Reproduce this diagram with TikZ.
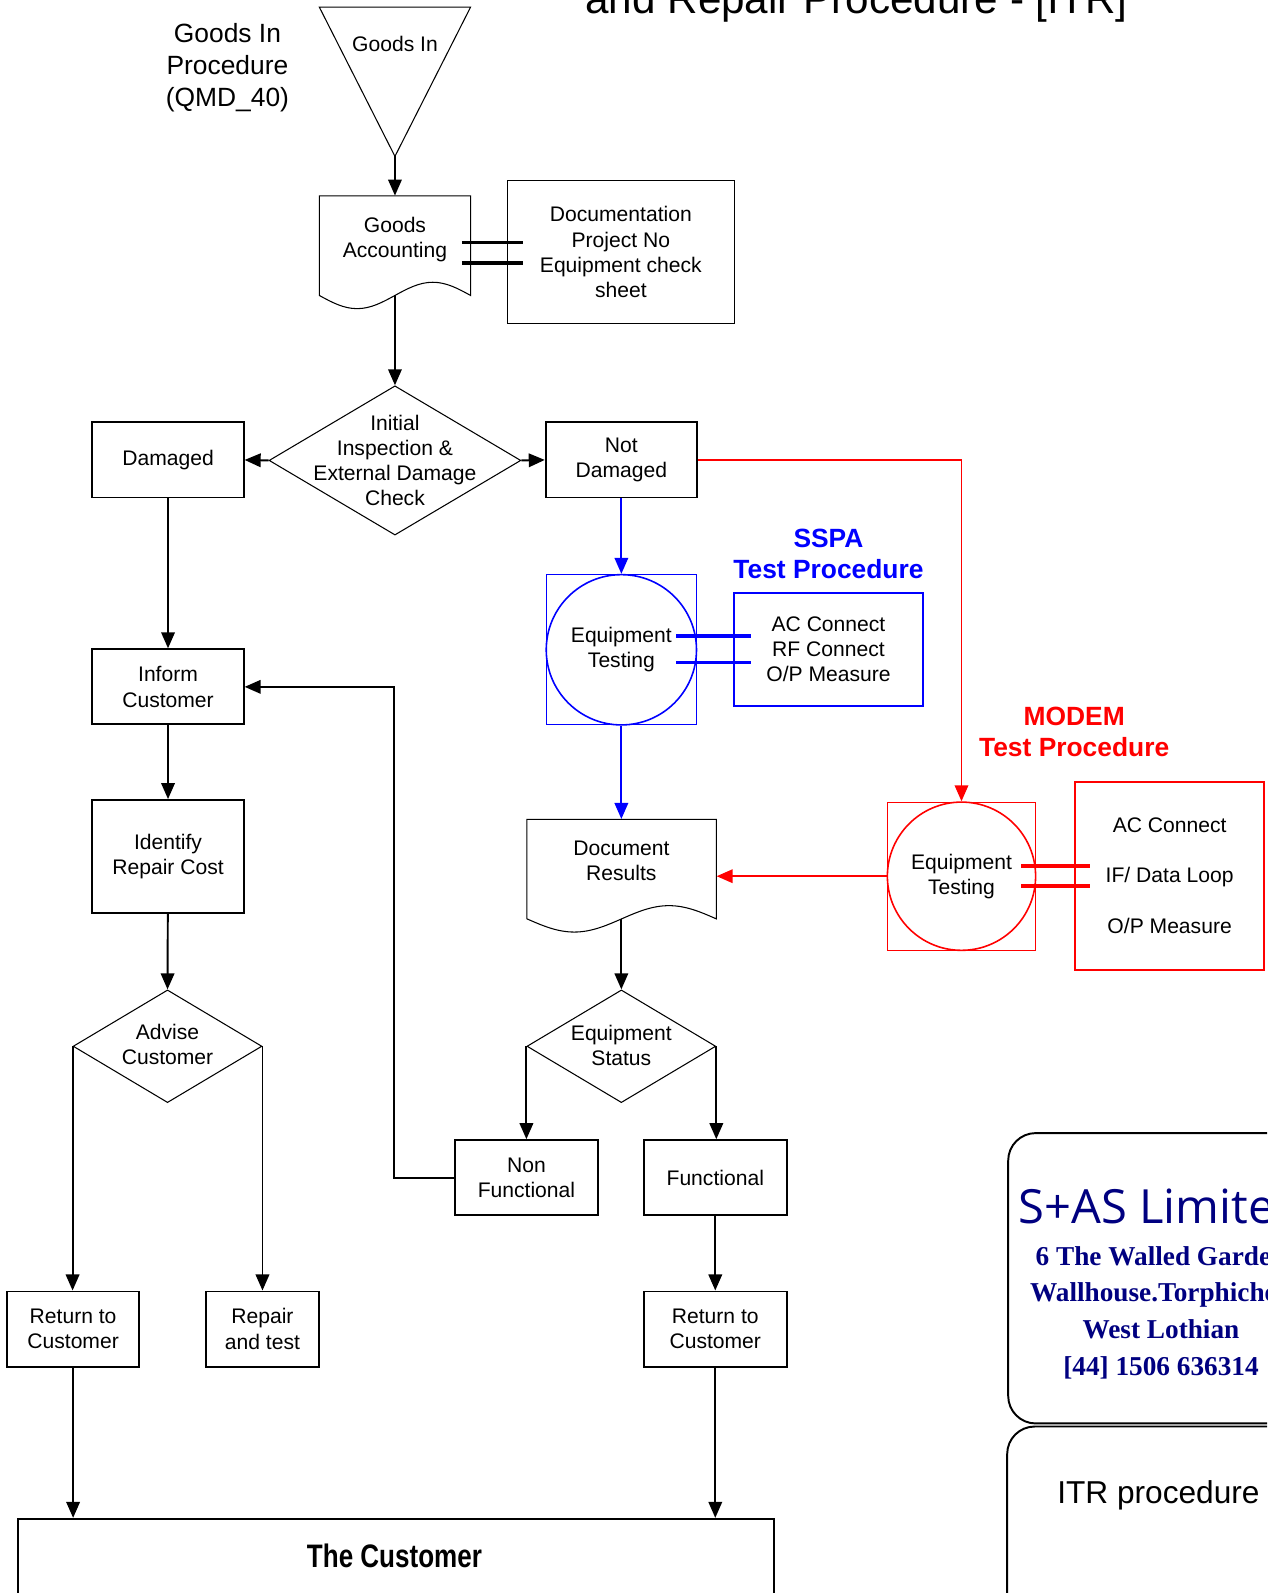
\documentclass[tikz,border=0pt]{standalone}
\usepackage{fontspec}
\setmainfont{Liberation Sans}
\newfontfamily\logofont{Open Sans}
\newfontfamily\addrfont{Liberation Serif}
\newfontfamily\narrowfont[FakeStretch=0.8]{Liberation Sans}
\usetikzlibrary{arrows.meta,shapes.geometric}
\definecolor{navy}{RGB}{0,0,128}
\newcommand\pxu{0.0203cm}

\begin{document}
\begin{tikzpicture}[x=0.0203cm, y=-0.0203cm,
  font=\fontsize{12}{14.4}\selectfont,
  box/.style={draw, line width=1.1pt, align=center, inner sep=0pt,
    minimum width=149*\pxu, minimum height=74*\pxu},
  thinbox/.style={draw, line width=0.6pt, align=center, inner sep=0pt},
  decision/.style={draw, diamond, line width=0.6pt, inner sep=0pt},
  lbl/.style={align=center, inner sep=0pt},
  flow/.style={line width=1.1pt, -{Triangle[length=0.32cm, width=0.27cm]}},
  tie/.style={line width=2pt},
  heading/.style={align=center, inner sep=0pt, font=\fontsize{15}{17.9}\selectfont\bfseries},
  testbox/.style={draw, line width=0.6pt, minimum size=#1*\pxu, inner sep=0pt},
  testcirc/.style={draw, circle, line width=0.9pt, minimum size=#1*\pxu, inner sep=0pt, align=center}]
  \useasboundingbox (0,0) rectangle (1248,1569);
  \clip (0,0) rectangle (1248,1569);
  \fill[white] (0,0) rectangle (1248,1569);

  % title (cut off at the top)
  \node[anchor=base, inner sep=0pt, font=\fontsize{24}{28}\selectfont] (title) at (843.5,13) {and Repair Procedure - [ITR]};

  % goods in
  \node[lbl, font=\fontsize{15}{18.2}\selectfont] (ginproc) at (224,66.5) {Goods In\\Procedure\\(QMD\_40)};
  \coordinate (gintip) at (389,154);
  \draw[line width=0.6pt] (314.5,7) -- (463.5,7) -- (gintip) -- cycle;
  \node[lbl] (gin) at (389,43) {Goods In};

  % goods accounting (document shape)
  \draw[line width=0.6pt] (314.5,193) -- (463.5,193) -- (463.5,291) sin (426.25,278) cos (389,291)
    sin (351.75,304) cos (314.5,291) -- cycle;
  \node[lbl, minimum width=149*\pxu, minimum height=86*\pxu] (acct) at (389,236) {Goods\\Accounting};
  \coordinate (acctbot) at (389,291);
  \node[thinbox, minimum width=223*\pxu, minimum height=141*\pxu] (docs) at (611.5,248.5)
    {Documentation\\Project No\\Equipment check\\sheet};
  \foreach \y in {239,259}
    \draw[tie] (455,\y) -- (515,\y);

  % inspection
  \node[decision, minimum width=248*\pxu, minimum height=147*\pxu] (insp) at (389,453.5) {};
  \node[lbl] (insptxt) at (insp) {Initial\\Inspection \&\\External Damage\\Check};
  \node[box] (dmg) at (165.5,453) {Damaged};
  \node[box] (notdmg) at (612,453) {Not\\Damaged};

  % damaged branch
  \node[box] (inform) at (165.5,676.5) {Inform\\Customer};
  \node[box, minimum height=111*\pxu] (repcost) at (165.5,843.5) {Identify\\Repair Cost};
  \node[decision, minimum width=186*\pxu, minimum height=111*\pxu] (advise) at (165,1030.5) {};
  \node[lbl] (advisetxt) at (165,1029) {Advise\\Customer};
  \node[box, minimum width=130*\pxu] (retL) at (72,1309) {Return to\\Customer};
  \node[box, minimum width=111*\pxu] (repair) at (258.5,1309) {Repair\\and test};

  % SSPA test
  \node[heading, text=blue] (sspa) at (816,545.5) {SSPA\\Test Procedure};
  \node[testbox=148, blue] (sqB) at (612,640) {};
  \node[testcirc=148, blue, text=black] (circB) at (612,640) {Equipment\\Testing};
  \node[draw=blue, line width=1.1pt, align=center, inner sep=0pt,
    minimum width=186*\pxu, minimum height=111*\pxu] (sspabox) at (816,639.5)
    {AC Connect\\RF Connect\\O/P Measure};
  \foreach \y in {626.5,652.5}
    \draw[tie, blue] (666,\y) -- (740,\y);

  % MODEM test
  \node[heading, text=red] (modem) at (1058,721) {MODEM\\Test Procedure};
  \node[testbox=146, red] (sqR) at (947,863) {};
  \node[testcirc=146, red, text=black] (circR) at (947,863) {Equipment\\Testing};
  \node[draw=red, line width=1.1pt, align=center, inner sep=0pt, font=\fontsize{12}{28.5}\selectfont,
    minimum width=186*\pxu, minimum height=185*\pxu] (modembox) at (1152,862.5)
    {AC Connect\\IF/ Data Loop\\O/P Measure};
  \foreach \y in {853,872.5}
    \draw[tie, red] (1006,\y) -- (1074,\y);

  % document results (document shape)
  \draw[line width=0.6pt] (519,807) -- (705.5,807) -- (705.5,905) sin (658.9,892) cos (612.25,905)
    sin (565.6,918) cos (519,905) -- cycle;
  \node[lbl, minimum width=187*\pxu, minimum height=82*\pxu] (docres) at (612,848) {Document\\Results};
  \coordinate (docresbot) at (612,905);

  % equipment status
  \node[decision, minimum width=186*\pxu, minimum height=111*\pxu] (eqst) at (612,1030.5) {};
  \node[lbl] (eqsttxt) at (612,1029.5) {Equipment\\Status};
  \node[box, minimum width=141*\pxu] (nonfn) at (518.5,1160) {Non\\Functional};
  \node[box, minimum width=141*\pxu] (fn) at (704.5,1160) {Functional};
  \node[box, minimum width=141*\pxu] (retR) at (704.5,1309) {Return to\\Customer};

  % the customer
  \node[draw, line width=1.1pt, anchor=north west, inner sep=0pt,
    minimum width=744*\pxu, minimum height=150*\pxu] (cust) at (17,1495) {};
  \node[lbl, font=\narrowfont\bfseries\fontsize{18.5}{22}\selectfont] (custtxt) at (388.5,1532) {The Customer};

  % company boxes
  \node[draw, line width=1.1pt, rounded corners=0.55cm, inner sep=0pt,
    minimum width=301*\pxu, minimum height=286*\pxu] (logo) at (1143.5,1259) {};
  \node[lbl, text=navy, font=\logofont\fontsize{26.8}{31}\selectfont] (sas) at (1143.5,1188) {S+AS Limited};
  \node[lbl, text=navy, font=\addrfont\bfseries\fontsize{15.5}{21}\selectfont] (addr) at (1143.5,1293)
    {6 The Walled Garden\\Wallhouse.Torphichen\\West Lothian\\{[44]} 1506 636314};
  \node[draw, line width=1.1pt, rounded corners=0.55cm, inner sep=0pt,
    minimum width=302*\pxu, minimum height=300*\pxu] (itrbox) at (1143,1555) {};
  \node[lbl, font=\fontsize{18}{22}\selectfont] (itr) at (1141,1473) {ITR procedure};

  % connectors
  \draw[flow] (gintip) -- (acct.north);
  \draw[flow] (acctbot) -- (insp.north);
  \draw[flow] (insp.west) -- (dmg.east);
  \draw[flow] (insp.east) -- (notdmg.west);
  \draw[flow] (dmg) -- (inform);
  \draw[flow] (inform) -- (repcost);
  \draw[flow] (repcost) -- (advise.north);
  \draw[flow] (advise.west) -- (advise.west |- retL.north);
  \draw[flow] (advise.east) -- (advise.east |- repair.north);
  \draw[flow] (retL) -- (retL |- cust.north);
  \draw[flow, blue] (notdmg) -- (circB);
  \draw[flow, blue] (circB) -- (docres.north);
  \draw[flow, red] (notdmg.east) -| (circR.north);
  \draw[flow, red] (circR.west) -- (circR.west -| docres.east);
  \draw[flow] (docresbot) -- (eqst.north);
  \draw[flow] (eqst.west) -- (eqst.west |- nonfn.north);
  \draw[flow] (eqst.east) -- (eqst.east |- fn.north);
  \draw[flow] (nonfn.west) -- ++(-59,0) |- (inform.east);
  \draw[flow] (fn) -- (retR);
  \draw[flow] (retR) -- (retR |- cust.north);
\end{tikzpicture}
\end{document}
